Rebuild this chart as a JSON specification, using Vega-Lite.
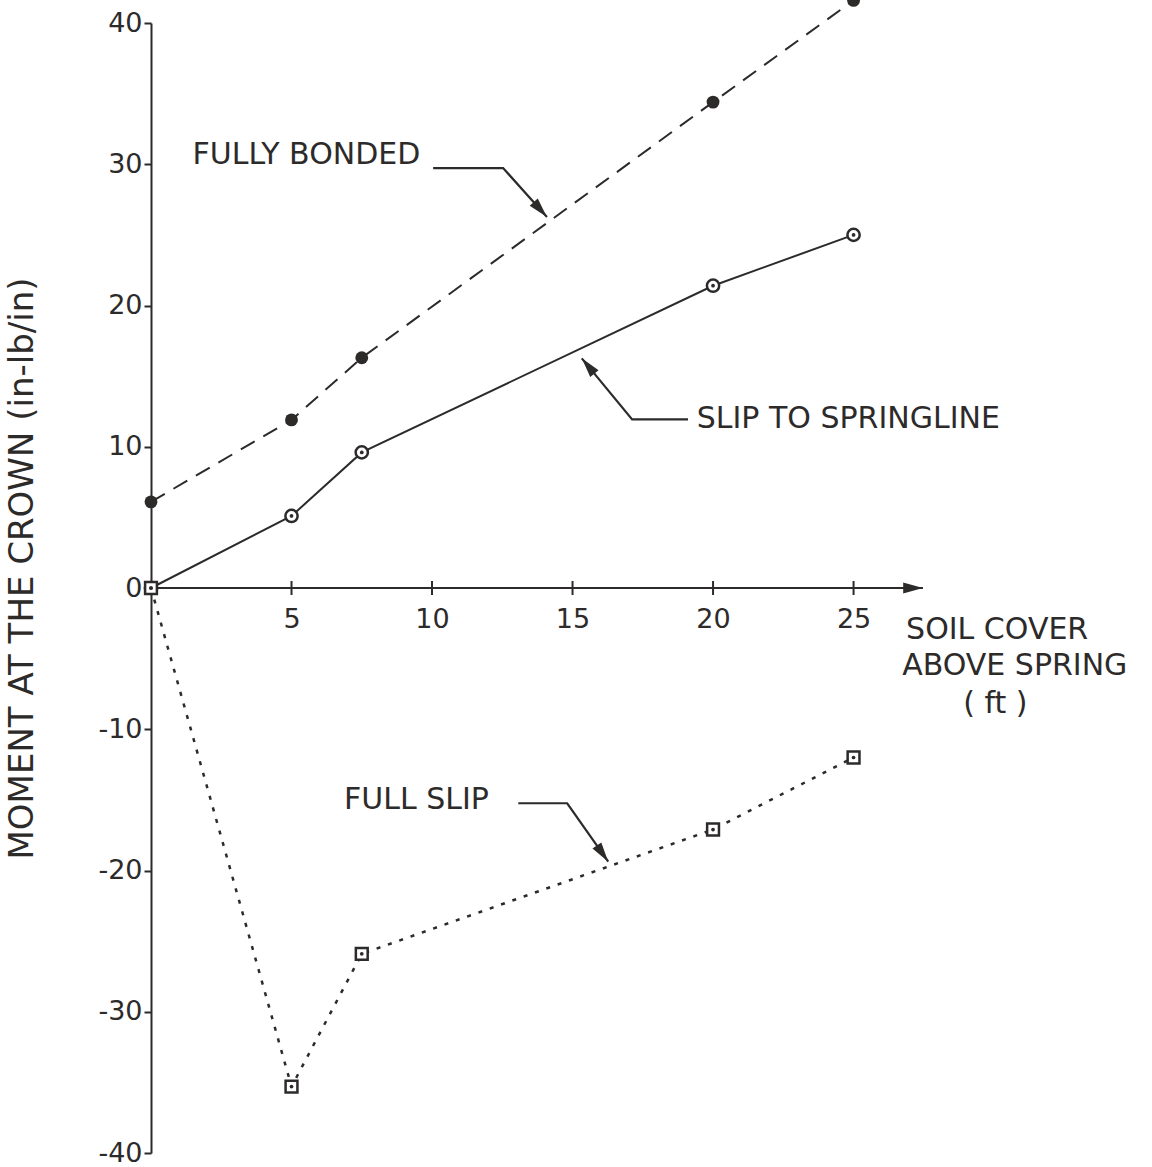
{
  "$schema": "https://vega.github.io/schema/vega-lite/v6.json",
  "autosize": {"type": "none"},
  "padding": {"left": 151, "top": 23, "right": 0, "bottom": 14},
  "width": 1001,
  "height": 1130,
  "background": "#ffffff",
  "config": {"view": {"stroke": null}, "font": "DejaVu Sans", "axis": {"grid": false}},
  "datasets": {
    "curves": [
      {"series": "FULLY BONDED", "x": 0, "y": 6.1},
      {"series": "FULLY BONDED", "x": 5, "y": 11.9},
      {"series": "FULLY BONDED", "x": 7.5, "y": 16.3},
      {"series": "FULLY BONDED", "x": 20, "y": 34.4},
      {"series": "FULLY BONDED", "x": 25, "y": 41.6},
      {"series": "SLIP TO SPRINGLINE", "x": 0, "y": 0},
      {"series": "SLIP TO SPRINGLINE", "x": 5, "y": 5.1},
      {"series": "SLIP TO SPRINGLINE", "x": 7.5, "y": 9.6},
      {"series": "SLIP TO SPRINGLINE", "x": 20, "y": 21.4},
      {"series": "SLIP TO SPRINGLINE", "x": 25, "y": 25.0},
      {"series": "FULL SLIP", "x": 0, "y": 0},
      {"series": "FULL SLIP", "x": 5, "y": -35.3},
      {"series": "FULL SLIP", "x": 7.5, "y": -25.9},
      {"series": "FULL SLIP", "x": 20, "y": -17.1},
      {"series": "FULL SLIP", "x": 25, "y": -12.0}
    ],
    "leaders": [
      {"id": "fb", "step": 1, "x": 10.04, "y": 29.73},
      {"id": "fb", "step": 2, "x": 12.53, "y": 29.73},
      {"id": "fb", "step": 3, "x": 14.09, "y": 26.27},
      {"id": "ss", "step": 1, "x": 19.11, "y": 11.94},
      {"id": "ss", "step": 2, "x": 17.12, "y": 11.94},
      {"id": "ss", "step": 3, "x": 15.33, "y": 16.26},
      {"id": "fs", "step": 1, "x": 13.07, "y": -15.24},
      {"id": "fs", "step": 2, "x": 14.81, "y": -15.24},
      {"id": "fs", "step": 3, "x": 16.27, "y": -19.38}
    ],
    "labels": [
      {"label": "FULLY BONDED", "x": 1.48, "y": 30.65},
      {"label": "SLIP TO SPRINGLINE", "x": 19.42, "y": 11.96},
      {"label": "FULL SLIP", "x": 6.87, "y": -14.99},
      {"label": "SOIL COVER", "x": 26.87, "y": -2.97},
      {"label": "ABOVE SPRING", "x": 26.73, "y": -5.52},
      {"label": "( ft )", "x": 28.9, "y": -8.21}
    ],
    "xaxis": [
      {"x": 0, "y": 0},
      {"x": 27.47, "y": 0}
    ],
    "xticks": [
      {"x": 5, "y": 0},
      {"x": 10, "y": 0},
      {"x": 15, "y": 0},
      {"x": 20, "y": 0},
      {"x": 25, "y": 0}
    ]
  },
  "encoding": {
    "x": {
      "field": "x",
      "type": "quantitative",
      "scale": {"domain": [0, 35.62], "nice": false, "zero": false},
      "axis": {
        "orient": "bottom",
        "offset": -565,
        "values": [5, 10, 15, 20, 25],
        "ticks": false,
        "tickSize": 0,
        "domain": false,
        "labelPadding": 18,
        "labelFontSize": 27,
        "labelColor": "#2d2a2a",
        "labelFlush": false,
        "labelExpr": "'' + datum.value",
        "title": null,
        "grid": false
      }
    },
    "y": {
      "field": "y",
      "type": "quantitative",
      "scale": {"domain": [-40, 40], "nice": false, "zero": false},
      "axis": {
        "orient": "left",
        "values": [-40, -30, -20, -10, 0, 10, 20, 30, 40],
        "tickSize": 7,
        "tickWidth": 2,
        "tickColor": "#2d2a2a",
        "domainColor": "#2d2a2a",
        "domainWidth": 2,
        "labelPadding": 2,
        "labelFontSize": 27,
        "labelColor": "#2d2a2a",
        "labelExpr": "'' + datum.value",
        "title": "MOMENT AT THE CROWN (in-lb/in)",
        "titleFontSize": 34,
        "titleFontWeight": "normal",
        "titleColor": "#2d2a2a",
        "titleX": -129,
        "titleY": 545,
        "titleAngle": -90,
        "titleAlign": "center",
        "titleBaseline": "middle",
        "grid": false
      }
    }
  },
  "layer": [
    {
      "data": {"name": "xaxis"},
      "mark": {"type": "line", "color": "#2d2a2a", "strokeWidth": 2}
    },
    {
      "data": {"name": "xaxis"},
      "transform": [{"filter": "datum.x > 27"}],
      "mark": {"type": "point", "shape": "M0,0L0.6,2.2L-0.6,2.2Z", "filled": true, "color": "#2d2a2a", "opacity": 1, "size": 324, "angle": 90}
    },
    {
      "data": {"name": "xticks"},
      "mark": {"type": "point", "shape": "M0,-1L0,1", "filled": false, "stroke": "#2d2a2a", "strokeWidth": 2, "opacity": 1, "size": 196}
    },
    {
      "data": {"name": "curves"},
      "transform": [{"filter": "datum.series == 'FULLY BONDED'"}],
      "mark": {"type": "line", "color": "#2d2a2a", "strokeWidth": 2, "strokeDash": [16, 10]}
    },
    {
      "data": {"name": "curves"},
      "transform": [{"filter": "datum.series == 'SLIP TO SPRINGLINE'"}],
      "mark": {"type": "line", "color": "#2d2a2a", "strokeWidth": 2}
    },
    {
      "data": {"name": "curves"},
      "transform": [{"filter": "datum.series == 'FULL SLIP'"}],
      "mark": {"type": "line", "color": "#2d2a2a", "strokeWidth": 2.5, "strokeDash": [4, 8]}
    },
    {
      "data": {"name": "curves"},
      "transform": [{"filter": "datum.series == 'FULLY BONDED'"}],
      "mark": {"type": "point", "shape": "circle", "filled": true, "color": "#2d2a2a", "opacity": 1, "size": 165}
    },
    {
      "data": {"name": "curves"},
      "transform": [{"filter": "datum.series == 'SLIP TO SPRINGLINE'"}],
      "mark": {"type": "point", "shape": "circle", "fill": "#ffffff", "stroke": "#2d2a2a", "strokeWidth": 2.5, "opacity": 1, "size": 150}
    },
    {
      "data": {"name": "curves"},
      "transform": [{"filter": "datum.series == 'FULL SLIP'"}],
      "mark": {"type": "point", "shape": "square", "fill": "#ffffff", "stroke": "#2d2a2a", "strokeWidth": 2.5, "opacity": 1, "size": 140}
    },
    {
      "data": {"name": "curves"},
      "transform": [{"filter": "datum.series != 'FULLY BONDED'"}],
      "mark": {"type": "point", "shape": "circle", "filled": true, "color": "#2d2a2a", "opacity": 1, "size": 14}
    },
    {
      "data": {"name": "leaders"},
      "mark": {"type": "line", "color": "#2d2a2a", "strokeWidth": 2.2},
      "encoding": {
        "detail": {"field": "id"},
        "order": {"field": "step", "type": "quantitative"}
      }
    },
    {
      "data": {"name": "leaders"},
      "transform": [{"filter": "datum.step == 3 && datum.id == 'fb'"}],
      "mark": {"type": "point", "shape": "M0,0L0.6,2.2L-0.6,2.2Z", "filled": true, "color": "#2d2a2a", "opacity": 1, "size": 324, "angle": 138}
    },
    {
      "data": {"name": "leaders"},
      "transform": [{"filter": "datum.step == 3 && datum.id == 'ss'"}],
      "mark": {"type": "point", "shape": "M0,0L0.6,2.2L-0.6,2.2Z", "filled": true, "color": "#2d2a2a", "opacity": 1, "size": 324, "angle": -39.5}
    },
    {
      "data": {"name": "leaders"},
      "transform": [{"filter": "datum.step == 3 && datum.id == 'fs'"}],
      "mark": {"type": "point", "shape": "M0,0L0.6,2.2L-0.6,2.2Z", "filled": true, "color": "#2d2a2a", "opacity": 1, "size": 324, "angle": 145}
    },
    {
      "data": {"name": "labels"},
      "mark": {"type": "text", "align": "left", "baseline": "middle", "fontSize": 30, "color": "#2d2a2a"},
      "encoding": {
        "text": {"field": "label"}
      }
    }
  ]
}
